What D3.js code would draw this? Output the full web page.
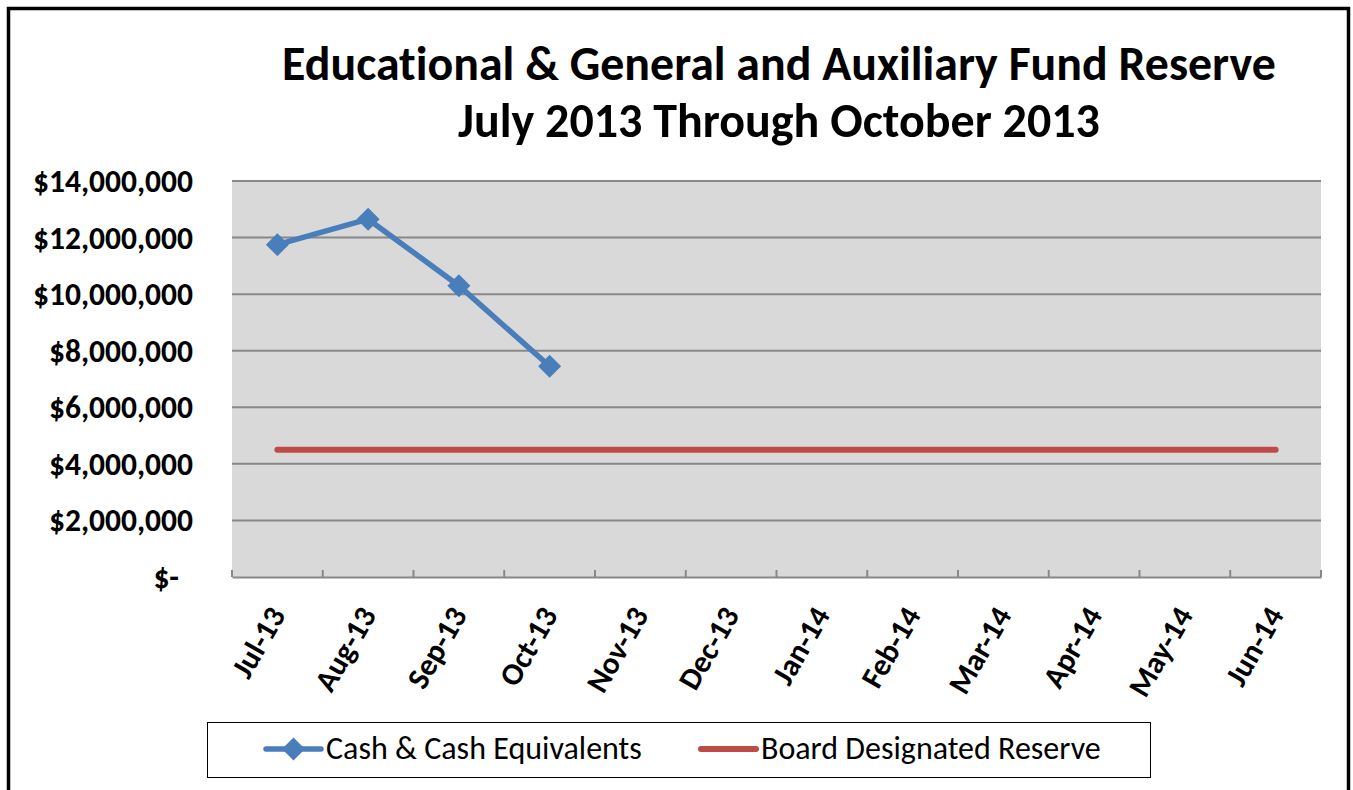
<!DOCTYPE html>
<html>
<head>
<meta charset="utf-8">
<script src="https://cdn.jsdelivr.net/npm/d3@7"></script>
<style>
  body { margin: 0; background: #fff; }
  svg { display: block; }
  text { font-family: Carlito, "Open Sans", sans-serif; fill: #000; font-variant-ligatures: none; }
</style>
</head>
<body>
<svg id="chart" width="1353" height="790"></svg>
<script>
const months = ["Jul-13", "Aug-13", "Sep-13", "Oct-13", "Nov-13", "Dec-13",
                "Jan-14", "Feb-14", "Mar-14", "Apr-14", "May-14", "Jun-14"];
const cash = [11750000, 12650000, 10300000, 7450000];
const reserve = [4500000, 4500000, 4500000, 4500000, 4500000, 4500000,
                 4500000, 4500000, 4500000, 4500000, 4500000, 4500000];
const yTicks = [0, 2000000, 4000000, 6000000, 8000000, 10000000, 12000000, 14000000];
const titleLines = ["Educational & General and Auxiliary Fund Reserve",
                    "July 2013 Through October 2013"];
const seriesNames = ["Cash & Cash Equivalents", "Board Designated Reserve"];

const blue = "#4a7ebb", red = "#be4b48", grid = "#888888";
const plot = { left: 232, right: 1321, top: 181, bottom: 577 };

const svg = d3.select("#chart");

// outer frame
svg.append("rect")
  .attr("x", 8.5).attr("y", 8.5)
  .attr("width", 1340).attr("height", 800)
  .attr("fill", "#fff").attr("stroke", "#000").attr("stroke-width", 3.5);

// fit a text element to a target width
function fit(sel, target) {
  const fs = parseFloat(sel.style("font-size"));
  const w = sel.node().getComputedTextLength();
  sel.style("font-size", (fs * target / w) + "px");
}

// title
const titleBase = [80, 137], titleW = [994, 642];
titleLines.forEach((t, i) => {
  const el = svg.append("text")
    .attr("x", 779).attr("y", titleBase[i])
    .attr("text-anchor", "middle")
    .style("font-weight", "bold").style("font-size", "40px")
    .text(t);
  fit(el, titleW[i]);
});

const x = d3.scaleBand().domain(months).range([plot.left, plot.right]);
const y = d3.scaleLinear().domain([0, 14000000]).range([plot.bottom, plot.top]);
const cx = d => x(d) + x.bandwidth() / 2;

// plot background
svg.append("rect")
  .attr("x", plot.left).attr("y", plot.top)
  .attr("width", plot.right - plot.left).attr("height", plot.bottom - plot.top)
  .attr("fill", "#d9d9d9");

// gridlines
svg.append("g").selectAll("line")
  .data(yTicks.filter(v => v > 0))
  .join("line")
  .attr("x1", plot.left).attr("x2", plot.right)
  .attr("y1", d => y(d)).attr("y2", d => y(d))
  .attr("stroke", grid).attr("stroke-width", 2);

// y labels
const fmt = d3.format(",");
svg.append("g").selectAll("text")
  .data(yTicks)
  .join("text")
  .attr("x", d => d === 0 ? 179 : 193)
  .attr("y", d => y(d))
  .attr("dy", "0.35em")
  .attr("text-anchor", "end")
  .style("font-weight", "bold").style("font-size", "31.5px")
  .text(d => d === 0 ? "$-" : "$" + fmt(d));

// x axis with inward ticks
const xAxis = svg.append("g")
  .attr("transform", `translate(0,${plot.bottom})`)
  .call(d3.axisBottom(x).tickSize(0).tickFormat(""));
xAxis.select(".domain").attr("stroke", grid).attr("stroke-width", 2);
const tickPos = months.map(m => x(m)).concat([plot.right]);
xAxis.selectAll(".itick")
  .data(tickPos)
  .join("line")
  .attr("x1", d => d).attr("x2", d => d)
  .attr("y1", 0).attr("y2", -7)
  .attr("stroke", grid).attr("stroke-width", 2);

svg.append("g").selectAll("text")
  .data(months)
  .join("text")
  .attr("transform", d => `translate(${cx(d) + 9},${plot.bottom + 38}) rotate(-60)`)
  .attr("text-anchor", "end")
  .style("font-weight", "bold").style("font-size", "31px")
  .text(d => d);

// board designated reserve
const line = d3.line().x(d => cx(d.m)).y(d => y(d.v));
svg.append("path")
  .datum(reserve.map((v, i) => ({ m: months[i], v })))
  .attr("d", line)
  .attr("fill", "none").attr("stroke", red)
  .attr("stroke-width", 6).attr("stroke-linecap", "round");

// cash & cash equivalents
const cashPts = cash.map((v, i) => ({ m: months[i], v }));
svg.append("path")
  .datum(cashPts)
  .attr("d", line)
  .attr("fill", "none").attr("stroke", blue)
  .attr("stroke-width", 5.5).attr("stroke-linejoin", "round");

const diamond = d3.symbol(d3.symbolSquare, 265);
svg.append("g").selectAll("path")
  .data(cashPts)
  .join("path")
  .attr("d", diamond)
  .attr("transform", d => `translate(${cx(d.m)},${y(d.v)}) rotate(45)`)
  .attr("fill", blue);

// legend
const lg = svg.append("g");
lg.append("rect")
  .attr("x", 207.5).attr("y", 722.5)
  .attr("width", 943).attr("height", 55)
  .attr("fill", "#fff").attr("stroke", "#000").attr("stroke-width", 1);

const legendItems = [
  { name: seriesNames[0], color: blue, x0: 266, x1: 321, tx: 326, tw: 316, marker: true },
  { name: seriesNames[1], color: red, x0: 701, x1: 756, tx: 761, tw: 340, marker: false }
];
legendItems.forEach(it => {
  lg.append("line")
    .attr("x1", it.x0).attr("x2", it.x1).attr("y1", 749).attr("y2", 749)
    .attr("stroke", it.color).attr("stroke-width", it.marker ? 5.5 : 6)
    .attr("stroke-linecap", "round");
  if (it.marker) {
    lg.append("path")
      .attr("d", diamond)
      .attr("transform", `translate(${(it.x0 + it.x1) / 2},749) rotate(45)`)
      .attr("fill", it.color);
  }
  const t = lg.append("text")
    .attr("x", it.tx).attr("y", 759)
    .style("font-size", "26px")
    .text(it.name);
  fit(t, it.tw);
});
</script>
</body>
</html>
